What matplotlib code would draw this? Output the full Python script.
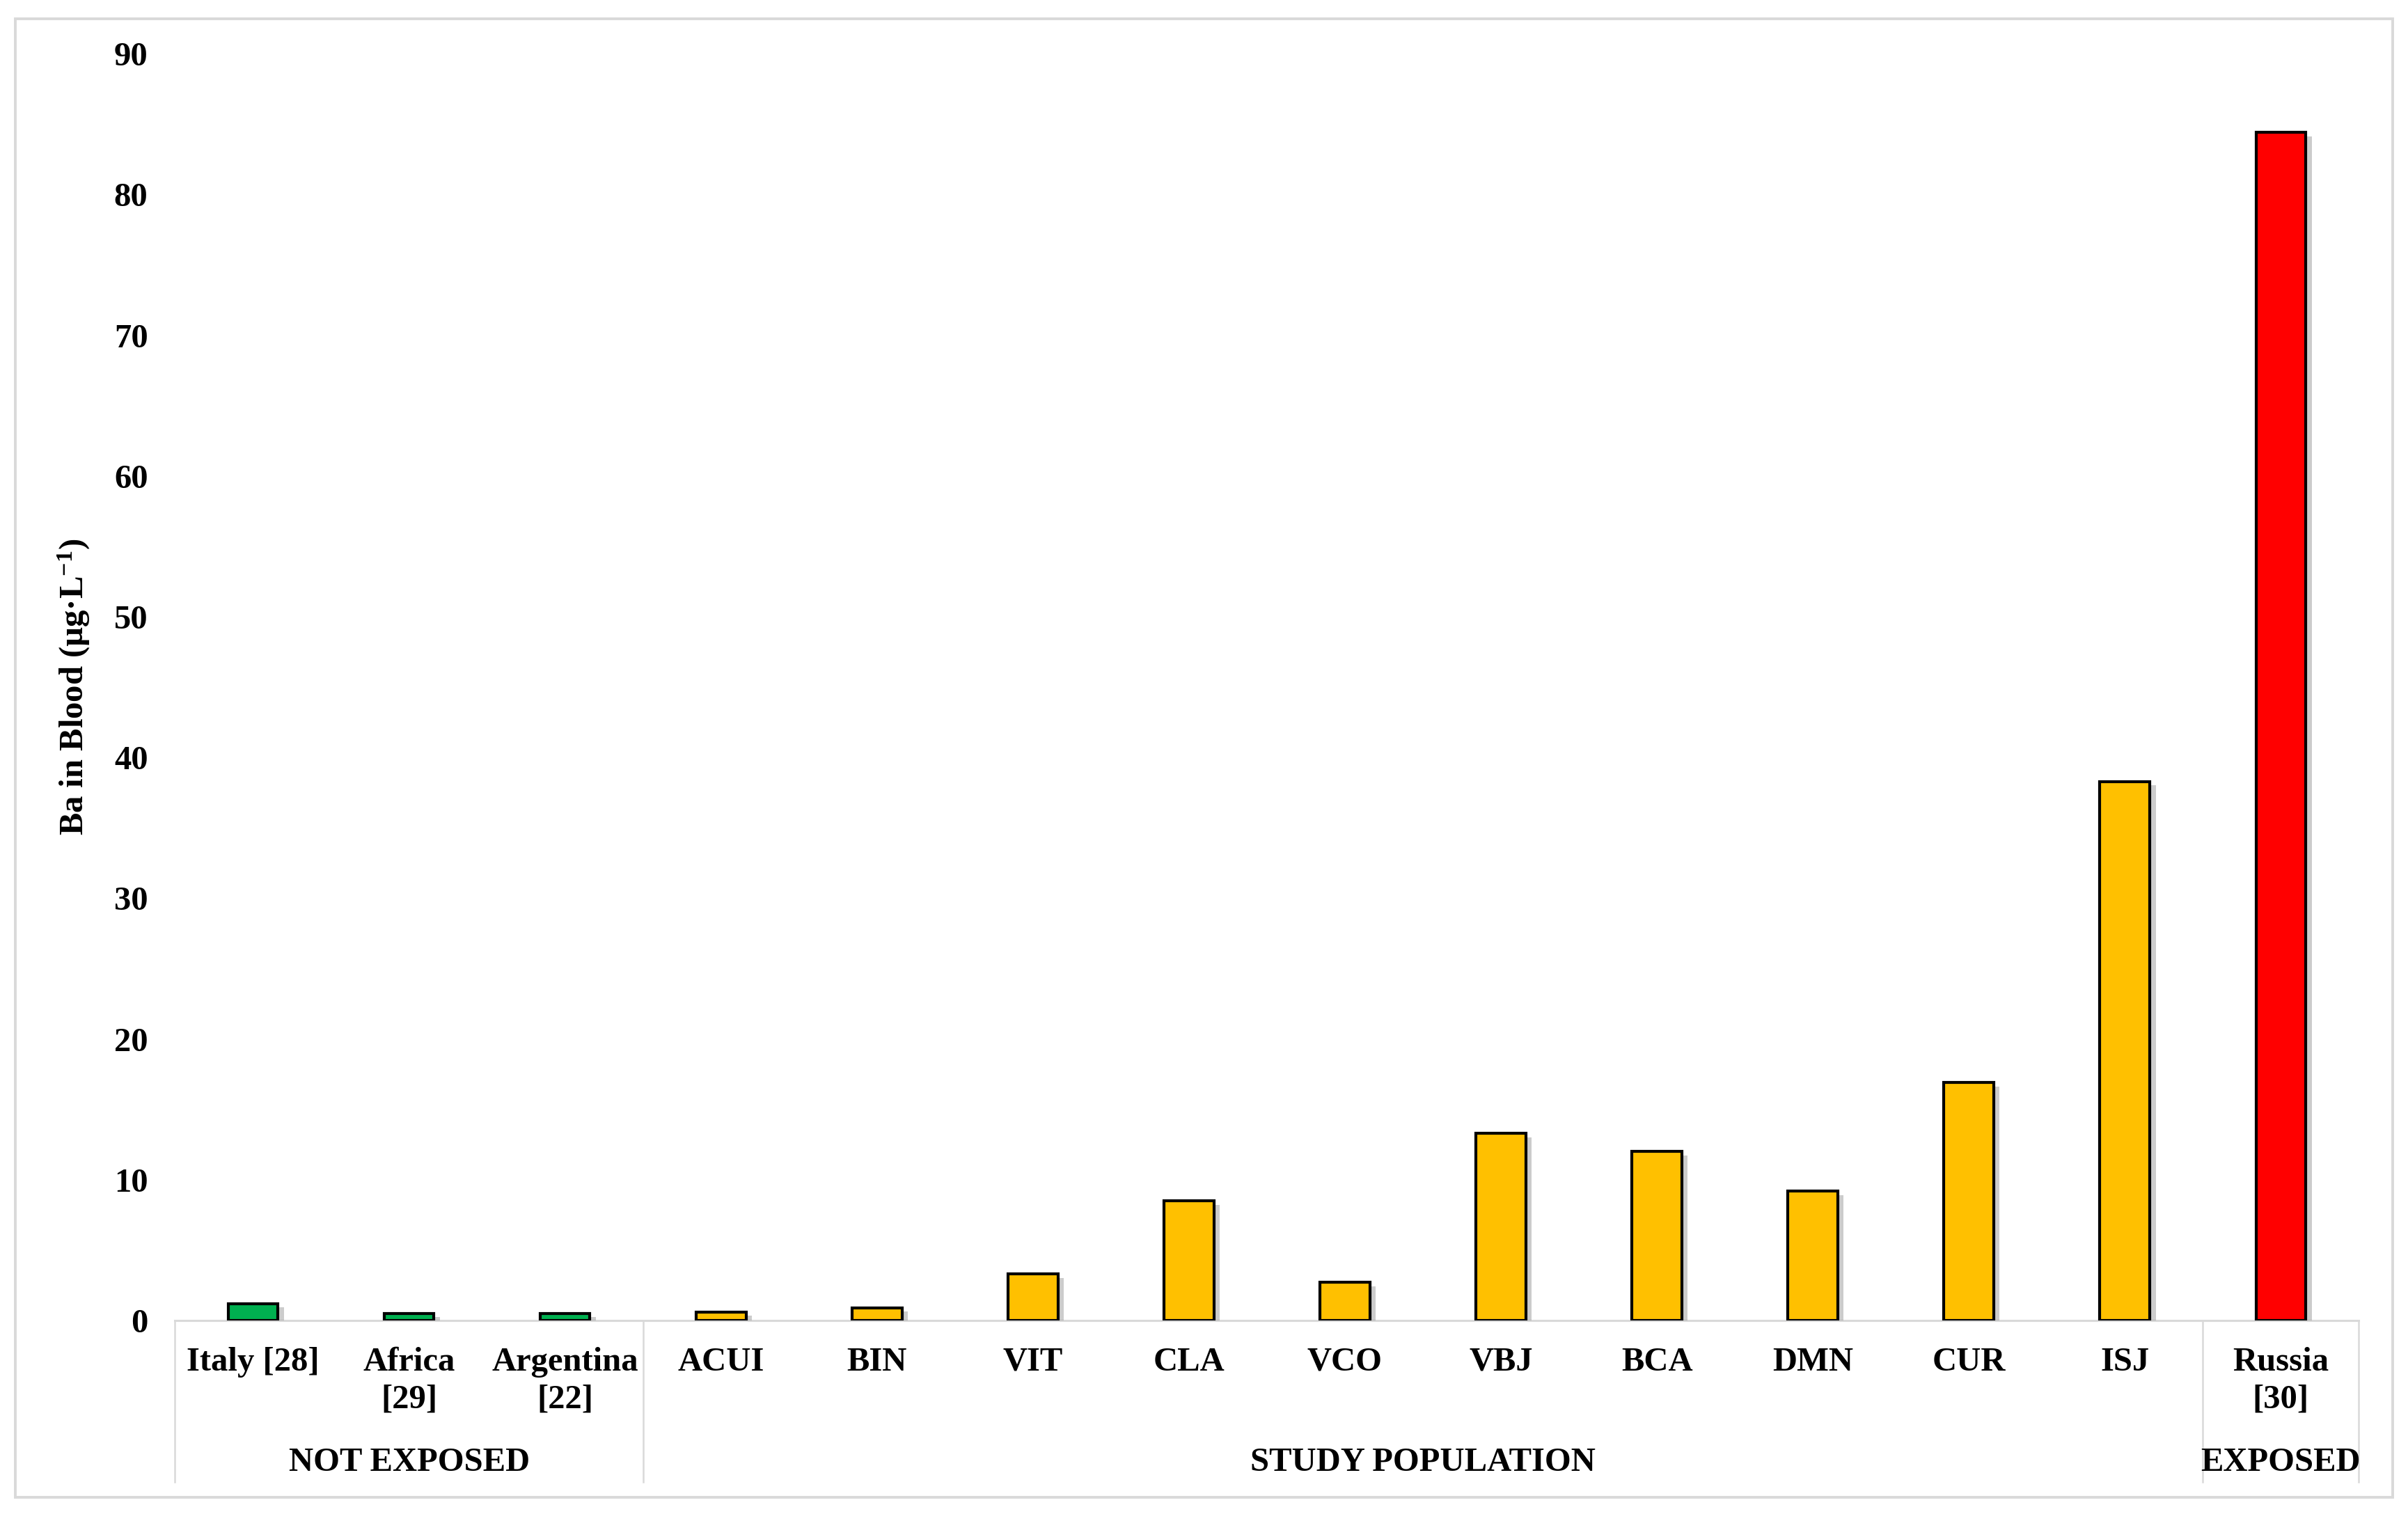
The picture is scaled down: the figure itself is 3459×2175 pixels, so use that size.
import matplotlib
matplotlib.use("Agg")
import matplotlib.pyplot as plt
import matplotlib.patheffects as pe
import matplotlib.transforms as mtransforms
from matplotlib.patches import Rectangle

categories = ["Italy [28]", "Africa\n[29]", "Argentina\n[22]", "ACUI", "BIN", "VIT", "CLA",
              "VCO", "VBJ", "BCA", "DMN", "CUR", "ISJ", "Russia\n[30]"]
values = [1.2, 0.5, 0.5, 0.6, 0.9, 3.3, 8.5, 2.7, 13.3, 12.0, 9.2, 16.9, 38.3, 84.4]
groups = ["NOT EXPOSED", "STUDY POPULATION", "EXPOSED"]
group_sizes = [3, 10, 1]
group_colors = ["#00B050", "#FFC000", "#FF0000"]
yticks = [0, 10, 20, 30, 40, 50, 60, 70, 80, 90]

plt.rcParams["font.family"] = ["Liberation Serif", "DejaVu Serif"]
plt.rcParams["font.weight"] = "bold"
plt.rcParams["mathtext.fontset"] = "custom"
plt.rcParams["mathtext.rm"] = "Liberation Serif:bold"
plt.rcParams["mathtext.bf"] = "Liberation Serif:bold"
plt.rcParams["mathtext.it"] = "Liberation Serif:bold"

fs = 17.5
dpi = 200
fig = plt.figure(figsize=(3459 / dpi, 2175 / dpi), dpi=dpi)
fig.patch.set_facecolor("white")

# outer frame
fig.patches.append(Rectangle((0.0064, 0.0112), 0.9872, 0.9766, transform=fig.transFigure,
                             fill=False, edgecolor="#d9d9d9", linewidth=1.4, zorder=0))

ax = fig.add_axes([0.0727, 0.1278, 0.9069, 0.8367])

colors = []
for c, n in zip(group_colors, group_sizes):
    colors += [c] * n

x = list(range(len(categories)))
bars = ax.bar(x, values, width=0.32, color=colors, edgecolor="black", linewidth=1.5, zorder=3)
for b in bars:
    b.set_path_effects([pe.SimplePatchShadow(offset=(3, -2), shadow_rgbFace="#808080", alpha=0.4),
                        pe.Normal()])

ax.set_xlim(-0.5, len(categories) - 0.5)
ax.set_ylim(0, 90)
ax.set_yticks(yticks)
ax.set_yticklabels([str(t) for t in yticks], fontsize=fs, fontweight="bold")
ax.tick_params(axis="y", length=0, pad=14)
ax.set_xticks(x)
ax.set_xticklabels(categories, fontsize=fs, fontweight="bold", linespacing=1.3)
ax.tick_params(axis="x", length=0, pad=13.5)

for s in ["top", "left", "right"]:
    ax.spines[s].set_visible(False)
ax.spines["bottom"].set_color("#d9d9d9")
ax.spines["bottom"].set_linewidth(1.1)

ax.set_ylabel("Ba in Blood (µg·L$^{-1}$)", fontsize=fs, fontweight="bold")
ax.yaxis.set_label_coords(-0.038, 0.5)

# group separators and labels
trans = mtransforms.blended_transform_factory(ax.transData, ax.transAxes)
edges = [-0.5]
for n in group_sizes:
    edges.append(edges[-1] + n)
for e in edges:
    ax.plot([e, e], [0, -0.1275], transform=trans, clip_on=False, color="#d9d9d9", linewidth=0.9)
for g, a, bnd in zip(groups, edges[:-1], edges[1:]):
    ax.annotate(g, xy=((a + bnd) / 2, 0), xycoords=trans, xytext=(0, -73.5),
                textcoords="offset points", ha="center", va="center",
                fontsize=fs, fontweight="bold")

fig.savefig("out.png", dpi=dpi, facecolor="white")
